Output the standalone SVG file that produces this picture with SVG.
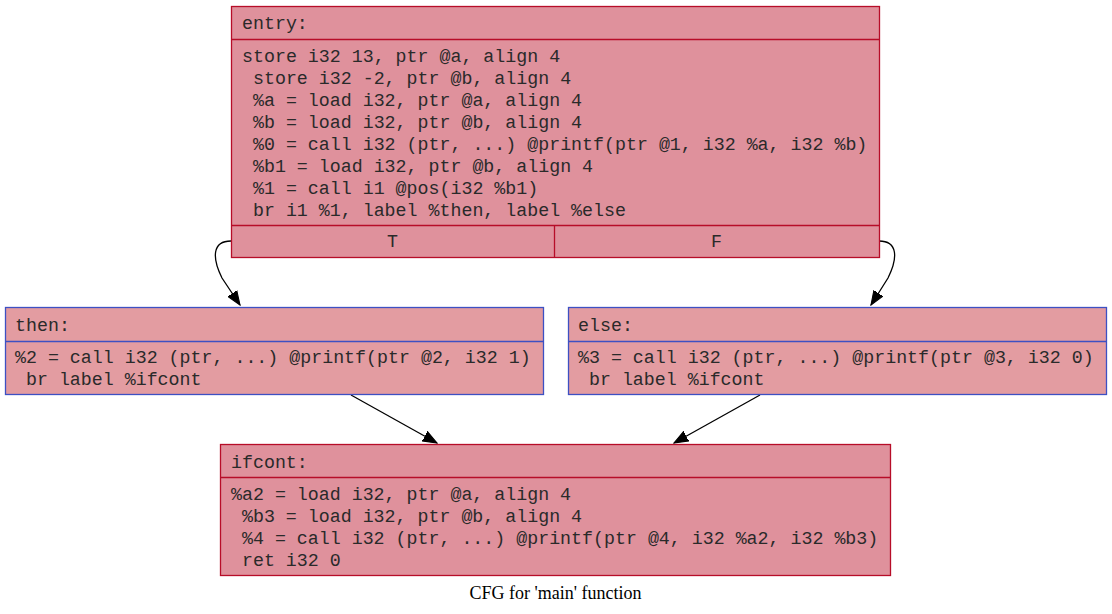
<svg xmlns="http://www.w3.org/2000/svg" width="1112" height="614" viewBox="0 0 1112 614">
<style>
.hot{fill:#df919c;stroke:#b70d28;stroke-width:1.3}
.cool{fill:#e39ca1;stroke:#3d50c3;stroke-width:1.3}
.sepH{stroke:#b70d28;stroke-width:1.3}
.sepC{stroke:#3d50c3;stroke-width:1.3}
.t{font-family:"Liberation Mono","Courier New",monospace;font-size:18.3px;fill:#2a2a2a;white-space:pre}
.edge{fill:none;stroke:#000;stroke-width:1.3}
.cap{font-family:"Liberation Serif","Times New Roman",serif;font-size:18px;fill:#000}
</style>
<defs>
<marker id="arr" markerUnits="userSpaceOnUse" markerWidth="15" markerHeight="12" refX="13" refY="5" orient="auto" viewBox="0 0 14 10">
<path d="M0,0 L13,5 L0,10 Z" fill="#000" stroke="#000"/>
</marker>
</defs>
<rect width="1112" height="614" fill="#fff"/>
<g id="edges">
<path class="edge" d="M231,241 C212,241 212,258 222,278 L240,305" marker-end="url(#arr)"/>
<path class="edge" d="M879,241 C898,241 898,258 888,278 L871,305" marker-end="url(#arr)"/>
<path class="edge" d="M351,395 L437,443" marker-end="url(#arr)"/>
<path class="edge" d="M760,395 L674,443" marker-end="url(#arr)"/>
</g>
<g id="entry">
<rect class="hot" x="231.5" y="6.5" width="648" height="251"/>
<line class="sepH" x1="231.5" y1="39.5" x2="879.5" y2="39.5"/>
<line class="sepH" x1="231.5" y1="225.5" x2="879.5" y2="225.5"/>
<line class="sepH" x1="554.5" y1="225.5" x2="554.5" y2="257.5"/>
<text class="t" x="242" y="29">entry:</text>
<text class="t" x="242" y="62">store i32 13, ptr @a, align 4</text>
<text class="t" x="242" y="84"> store i32 -2, ptr @b, align 4</text>
<text class="t" x="242" y="106"> %a = load i32, ptr @a, align 4</text>
<text class="t" x="242" y="128"> %b = load i32, ptr @b, align 4</text>
<text class="t" x="242" y="150"> %0 = call i32 (ptr, ...) @printf(ptr @1, i32 %a, i32 %b)</text>
<text class="t" x="242" y="172"> %b1 = load i32, ptr @b, align 4</text>
<text class="t" x="242" y="194"> %1 = call i1 @pos(i32 %b1)</text>
<text class="t" x="242" y="216"> br i1 %1, label %then, label %else</text>
<text class="t" x="392.5" y="247" text-anchor="middle">T</text>
<text class="t" x="716.5" y="247" text-anchor="middle">F</text>
</g>
<g id="then">
<rect class="cool" x="5.5" y="307.5" width="538" height="87"/>
<line class="sepC" x1="5.5" y1="341.5" x2="543.5" y2="341.5"/>
<text class="t" x="15" y="331">then:</text>
<text class="t" x="15" y="363">%2 = call i32 (ptr, ...) @printf(ptr @2, i32 1)</text>
<text class="t" x="15" y="385"> br label %ifcont</text>
</g>
<g id="else">
<rect class="cool" x="568.5" y="307.5" width="538" height="87"/>
<line class="sepC" x1="568.5" y1="341.5" x2="1106.5" y2="341.5"/>
<text class="t" x="578" y="331">else:</text>
<text class="t" x="578" y="363">%3 = call i32 (ptr, ...) @printf(ptr @3, i32 0)</text>
<text class="t" x="578" y="385"> br label %ifcont</text>
</g>
<g id="ifcont">
<rect class="hot" x="220.5" y="444.5" width="670" height="131"/>
<line class="sepH" x1="220.5" y1="477.5" x2="890.5" y2="477.5"/>
<text class="t" x="231" y="468">ifcont:</text>
<text class="t" x="231" y="500">%a2 = load i32, ptr @a, align 4</text>
<text class="t" x="231" y="522"> %b3 = load i32, ptr @b, align 4</text>
<text class="t" x="231" y="544"> %4 = call i32 (ptr, ...) @printf(ptr @4, i32 %a2, i32 %b3)</text>
<text class="t" x="231" y="566"> ret i32 0</text>
</g>
<text class="cap" x="555.5" y="599" text-anchor="middle">CFG for 'main' function</text>
</svg>
